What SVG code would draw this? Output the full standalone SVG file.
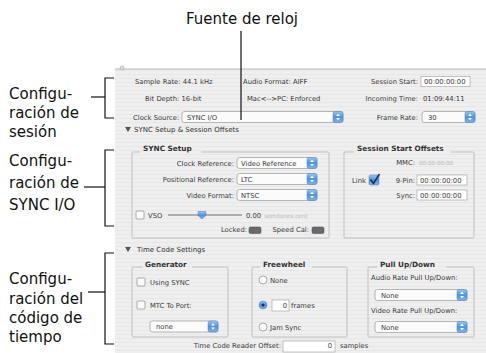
<svg xmlns="http://www.w3.org/2000/svg" xmlns:xlink="http://www.w3.org/1999/xlink" width="486" height="353" viewBox="0 0 486 353">
<style>
.lbl{font-family:"DejaVu Sans",sans-serif;font-size:15px;fill:#111}
.ui{font-family:"DejaVu Sans",sans-serif;font-size:6.8px;fill:#3a3a3a}
.hd{font-family:"DejaVu Sans",sans-serif;font-size:7px;fill:#333}
.ttl{font-family:"DejaVu Sans",sans-serif;font-size:7.3px;font-weight:bold;fill:#333}
.ghost{font-family:"DejaVu Sans",sans-serif;font-size:5.6px;fill:#b8b8b8}
.end{text-anchor:end}
.box{fill:none;stroke:#b4b4b4;stroke-width:0.8}
.pop{fill:#fbfbfb;stroke:#9a9a9a;stroke-width:0.7}
.fld{fill:#fff;stroke:#a8a8a8;stroke-width:0.7}
.chk{fill:#fafafa;stroke:#8c8c8c;stroke-width:0.7}
.ind{fill:#6a6a6a;stroke:#444;stroke-width:0.5}
.conn{fill:none;stroke:#111;stroke-width:1.2}
</style>
<defs>
<pattern id="stripes" width="4" height="4" patternUnits="userSpaceOnUse">
<rect width="4" height="4" fill="#efefef"/>
<rect y="2" width="4" height="1" fill="#e7e7e7"/>
</pattern>
<linearGradient id="blue" x1="0" y1="0" x2="0" y2="1">
<stop offset="0" stop-color="#9cc6f2"/>
<stop offset="0.5" stop-color="#4f93de"/>
<stop offset="1" stop-color="#7db3ea"/>
</linearGradient>
<g id="cap">
<rect x="0" y="0" width="10" height="11" rx="2" fill="url(#blue)" stroke="#4a7fb8" stroke-width="0.5"/>
<path d="M5,2.2 L7,4.6 L3,4.6 Z M5,8.8 L7,6.4 L3,6.4 Z" fill="#fff"/>
</g>
</defs>

<rect width="486" height="353" fill="#fff"/>

<g id="window">
<rect x="115" y="69" width="371" height="284" fill="url(#stripes)"/>
<line x1="115" y1="69" x2="486" y2="69" stroke="#b8b8b8" stroke-width="1"/>
<circle cx="122" cy="68" r="2" fill="#ddd" stroke="#aaa" stroke-width="0.6"/>
</g>

<g id="session-settings">
<text class="ui" x="135" y="83.5">Sample Rate: 44.1 kHz</text>
<text class="ui" x="243" y="83.5">Audio Format: AIFF</text>
<text class="ui end" x="418" y="83.5">Session Start:</text>
<rect class="fld" x="421" y="76.5" width="49" height="10"/>
<text class="ui" x="424" y="83.5">00:00:00:00</text>
<text class="ui" x="145" y="100.5">Bit Depth: 16-bit</text>
<text class="ui" x="247" y="100.5">Mac&lt;--&gt;PC: Enforced</text>
<text class="ui end" x="418" y="100.5">Incoming Time:</text>
<text class="ui" x="423" y="100.5">01:09:44:11</text>
<text class="ui" x="133" y="119.5">Clock Source:</text>
<rect class="pop" x="182" y="111.5" width="161" height="11" rx="2.5"/>
<use xlink:href="#cap" x="333" y="111.5"/>
<text class="ui" x="187" y="119.5">SYNC I/O</text>
<text class="ui end" x="418" y="119.5">Frame Rate:</text>
<rect class="pop" x="422" y="111.5" width="53" height="11" rx="2.5"/>
<use xlink:href="#cap" x="465" y="111.5"/>
<text class="ui" x="428" y="119.5">30</text>
</g>

<g id="sync-header">
<path d="M125,127 L131,127 L128,132 Z" fill="#555"/>
<text class="hd" x="134" y="132">SYNC Setup &amp; Session Offsets</text>
</g>

<g id="sync-setup">
<rect class="box" x="132" y="152" width="197" height="86" rx="1"/>
<rect x="140" y="147" width="61" height="8" fill="url(#stripes)"/>
<text class="ttl" x="143" y="151">SYNC Setup</text>
<text class="ui end" x="234" y="165.5">Clock Reference:</text>
<rect class="pop" x="237" y="157.5" width="80" height="11" rx="2.5"/>
<use xlink:href="#cap" x="307" y="157.5"/>
<text class="ui" x="241" y="165.5">Video Reference</text>
<text class="ui end" x="234" y="181.5">Positional Reference:</text>
<rect class="pop" x="237" y="173.5" width="80" height="11" rx="2.5"/>
<use xlink:href="#cap" x="307" y="173.5"/>
<text class="ui" x="241" y="181.5">LTC</text>
<text class="ui end" x="234" y="197.5">Video Format:</text>
<rect class="pop" x="237" y="189.5" width="80" height="11" rx="2.5"/>
<use xlink:href="#cap" x="307" y="189.5"/>
<text class="ui" x="241" y="197.5">NTSC</text>
<rect class="chk" x="136" y="211" width="8" height="8" rx="1"/>
<text class="ui" x="148" y="217.5">VSO</text>
<line x1="168" y1="215" x2="242" y2="215" stroke="#9a9a9a" stroke-width="1.6"/>
<path d="M198,211.5 L206,211.5 L206,215.5 L202,219 L198,215.5 Z" fill="url(#blue)" stroke="#4a7fb8" stroke-width="0.5"/>
<text class="ui" x="246" y="217.5">0.00</text>
<text class="ghost" x="264.5" y="217.5">semitones.cent</text>
<text class="ui end" x="247" y="232">Locked:</text>
<rect class="ind" x="249" y="227" width="12" height="6.5" rx="1.5"/>
<text class="ui end" x="309" y="232">Speed Cal:</text>
<rect class="ind" x="312" y="227" width="12" height="6.5" rx="1.5"/>
</g>

<g id="session-start-offsets">
<rect class="box" x="344" y="152" width="130" height="86" rx="1"/>
<rect x="354" y="147" width="97" height="8" fill="url(#stripes)"/>
<text class="ttl" x="357" y="151">Session Start Offsets</text>
<text class="ui end" x="415" y="164.5">MMC:</text>
<text class="ghost" x="419" y="164.5">00:00:00:00</text>
<text class="ui" x="352" y="182.5">Link</text>
<rect x="369" y="175" width="10" height="10" rx="1.5" fill="url(#blue)" stroke="#4a7fb8" stroke-width="0.5"/>
<path d="M370.5,179.5 L373.5,183.5 L379.5,174" fill="none" stroke="#1a2a50" stroke-width="1.5"/>
<text class="ui end" x="415" y="182.5">9-Pin:</text>
<rect class="fld" x="417" y="175" width="50" height="10"/>
<text class="ui" x="420" y="182.5">00:00:00:00</text>
<text class="ui end" x="415" y="197.5">Sync:</text>
<rect class="fld" x="417" y="190" width="50" height="10"/>
<text class="ui" x="420" y="197.5">00:00:00:00</text>
</g>

<g id="timecode-header">
<path d="M125,247 L131,247 L128,252 Z" fill="#555"/>
<text class="hd" x="137" y="251.5">Time Code Settings</text>
</g>

<g id="generator">
<rect class="box" x="132" y="267" width="96" height="70" rx="1"/>
<rect x="142" y="262" width="50" height="8" fill="url(#stripes)"/>
<text class="ttl" x="145" y="266.5">Generator</text>
<rect class="chk" x="137" y="278" width="8" height="8" rx="1"/>
<text class="ui" x="150" y="284.5">Using SYNC</text>
<rect class="chk" x="137" y="301" width="8" height="8" rx="1"/>
<text class="ui" x="150" y="307.5">MTC To Port:</text>
<rect class="pop" x="150" y="321" width="68" height="11" rx="2.5"/>
<use xlink:href="#cap" x="208" y="321"/>
<text class="ui" x="156" y="328.5">none</text>
</g>

<g id="freewheel">
<rect class="box" x="252" y="267" width="95" height="70" rx="1"/>
<rect x="260" y="262" width="52" height="8" fill="url(#stripes)"/>
<text class="ttl" x="263" y="266.5">Freewheel</text>
<circle class="chk" cx="263" cy="280" r="4"/>
<text class="ui" x="270" y="282.5">None</text>
<circle cx="263" cy="305" r="4" fill="url(#blue)" stroke="#4a7fb8" stroke-width="0.5"/>
<circle cx="263" cy="305" r="1.5" fill="#1a2a50"/>
<rect class="fld" x="272" y="300" width="17" height="11"/>
<text class="ui end" x="287" y="307.5">0</text>
<text class="ui" x="291" y="307.5">frames</text>
<circle class="chk" cx="263" cy="327" r="4"/>
<text class="ui" x="270" y="329.5">Jam Sync</text>
</g>

<g id="pullupdown">
<rect class="box" x="368" y="267" width="106" height="70" rx="1"/>
<rect x="377" y="262" width="69" height="8" fill="url(#stripes)"/>
<text class="ttl" x="380" y="266.5">Pull Up/Down</text>
<text class="ui" x="371" y="279.5">Audio Rate Pull Up/Down:</text>
<rect class="pop" x="375" y="289.5" width="92" height="11" rx="2.5"/>
<use xlink:href="#cap" x="457" y="289.5"/>
<text class="ui" x="381" y="297.5">None</text>
<text class="ui" x="371" y="312.5">Video Rate Pull Up/Down:</text>
<rect class="pop" x="375" y="321.5" width="92" height="11" rx="2.5"/>
<use xlink:href="#cap" x="457" y="321.5"/>
<text class="ui" x="381" y="329.5">None</text>
</g>

<g id="reader-offset">
<text class="ui end" x="281" y="348">Time Code Reader Offset:</text>
<rect class="fld" x="283" y="341" width="52" height="11"/>
<text class="ui end" x="332" y="348">0</text>
<text class="ui" x="340" y="348">samples</text>
</g>

<g id="label-clock">
<text class="lbl" x="242" y="24" text-anchor="middle">Fuente de reloj</text>
</g>
<g id="label-session">
<text class="lbl" x="9" y="99">Configu-</text>
<text class="lbl" x="9" y="118">ración de</text>
<text class="lbl" x="9" y="137">sesión</text>
</g>
<g id="label-sync">
<text class="lbl" x="9" y="166">Configu-</text>
<text class="lbl" x="9" y="188">ración de</text>
<text class="lbl" x="9" y="210">SYNC I/O</text>
</g>
<g id="label-timecode">
<text class="lbl" x="9" y="284">Configu-</text>
<text class="lbl" x="9" y="304">ración del</text>
<text class="lbl" x="9" y="323">código de</text>
<text class="lbl" x="9" y="342">tiempo</text>
</g>

<g id="connectors">
<line class="conn" x1="241" y1="31" x2="241" y2="120"/>
<path class="conn" d="M114,78 H105 V118 H114"/>
<line class="conn" x1="91" y1="97" x2="105" y2="97"/>
<path class="conn" d="M114,150 H105 V226 H114"/>
<line class="conn" x1="84" y1="187" x2="105" y2="187"/>
<path class="conn" d="M114,253 H105 V344 H114"/>
<line class="conn" x1="88" y1="292" x2="105" y2="292"/>
</g>
</svg>
